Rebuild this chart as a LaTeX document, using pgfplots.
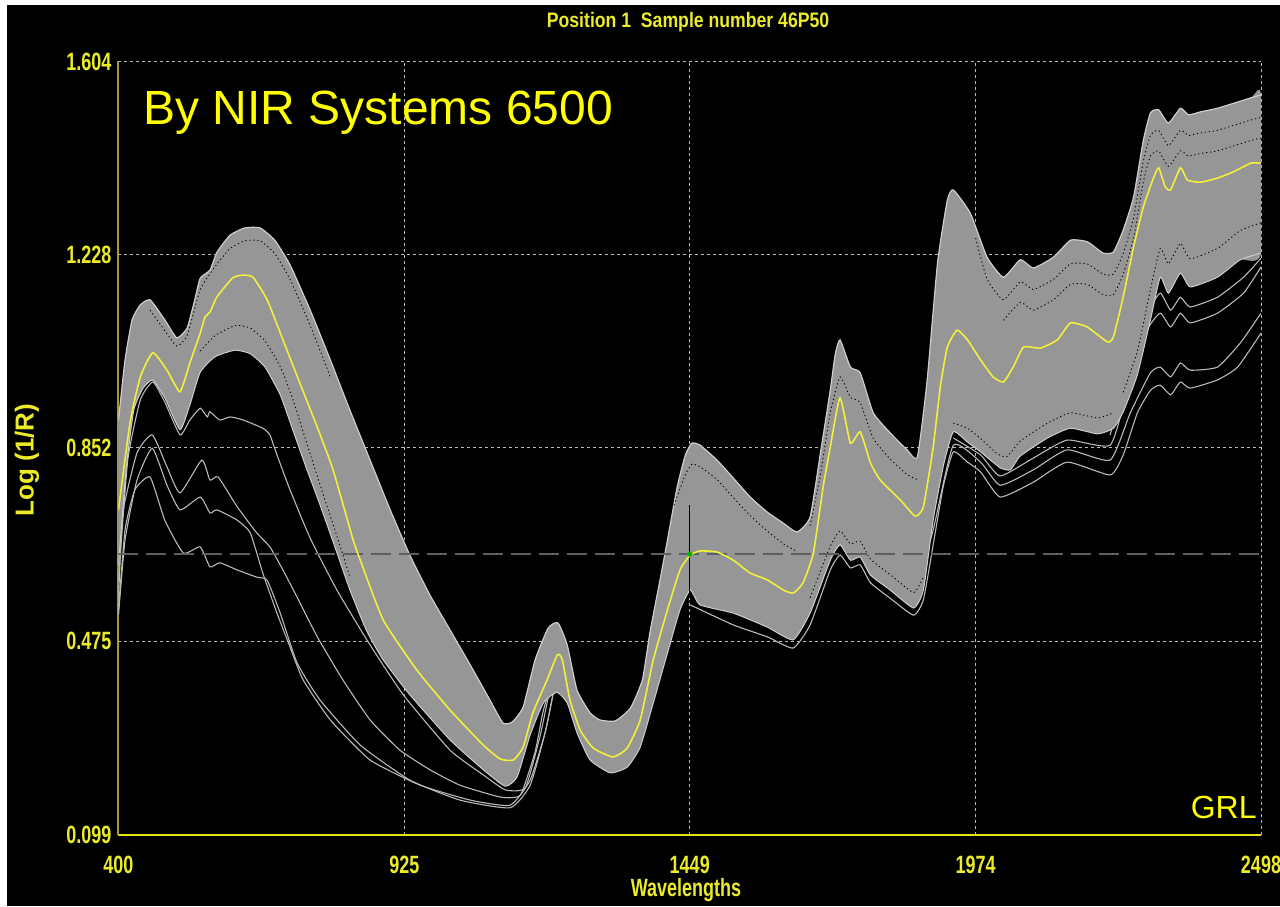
\documentclass[border=0pt]{standalone}
\usepackage{fontspec}
\setmainfont{Liberation Sans}
\newfontfamily\condfont[FakeStretch=0.72]{Liberation Sans Bold}
\newfontfamily\titlefont[FakeStretch=0.84]{Liberation Sans Bold}
\newfontfamily\labfont{Liberation Sans Bold}
\usepackage{pgfplots}
\pgfplotsset{compat=1.18}
\usetikzlibrary{backgrounds}
\definecolor{tickyellow}{RGB}{235,235,40}
\definecolor{axisyellow}{RGB}{230,230,20}
\definecolor{leftaxis}{RGB}{165,155,55}
\definecolor{bandgray}{RGB}{150,150,150}
\definecolor{linegray}{RGB}{205,205,205}
\definecolor{outgray}{RGB}{185,185,185}
\definecolor{meanyellow}{RGB}{240,240,60}
\definecolor{gridgray}{RGB}{185,185,185}
\definecolor{cursorgray}{RGB}{95,95,95}
\definecolor{textyellow}{RGB}{255,255,0}
\begin{document}
\begin{tikzpicture}
\begin{axis}[
  at={(0,0)}, anchor=south west,
  scale only axis, width=571.25pt, height=386.5pt,
  xmin=400, xmax=2498, ymin=0.099, ymax=1.604,
  axis x line*=bottom, axis y line*=left,
  x axis line style={-, draw=axisyellow, line width=1pt},
  y axis line style={-, draw=leftaxis, line width=1pt},
  xtick={400,925,1449,1974,2498}, xticklabels={400,925,1449,1974,2498},
  ytick={0.099,0.475,0.852,1.228,1.604}, yticklabels={0.099,0.475,0.852,1.228,1.604},
  major tick length=0pt,
  tick label style={font=\condfont\fontsize{12.5}{14}\selectfont, text=tickyellow},
  xticklabel shift=7pt,
  grid=major,
  major grid style={gridgray, line width=0.5pt, dash pattern=on 1.5pt off 1.5pt},
  xlabel={Wavelengths}, ylabel={Log (1/R)},
  xlabel style={at={(axis description cs:0.4967,-0.0718)}, anchor=center, font=\condfont\fontsize{12.5}{14}\selectfont, text=tickyellow},
  ylabel style={at={(axis description cs:-0.0801,0.4845)}, anchor=center, font=\labfont\fontsize{13}{15}\selectfont, text=tickyellow},
  title={Position 1\ \ Sample number 46P50},
  title style={at={(axis description cs:0.4985,1.0356)}, anchor=center, font=\titlefont\fontsize{10.5}{12}\selectfont, text=tickyellow},
]
% outlier spectra (left)
\addplot[outgray, line width=0.55pt, smooth, tension=0.3] coordinates {(400,0.594)(417,0.828)(440,0.945)(463,0.980)(485,0.941)(513,0.877)(531,0.906)(550,0.929)(563,0.912)(568,0.922)(586,0.906)(605,0.912)(629,0.906)(665,0.890)(678,0.877)(691,0.838)(715,0.770)(752,0.676)(801,0.575)(862,0.468)(923,0.371)(1009,0.263)(1070,0.215)(1110,0.186)(1147,0.190)(1174,0.290)(1190,0.37)(1205,0.42)};
\addplot[outgray, line width=0.55pt, smooth, tension=0.3] coordinates {(400,0.556)(408,0.725)(434,0.842)(462,0.877)(489,0.815)(513,0.764)(553,0.828)(568,0.789)(583,0.795)(618,0.737)(654,0.686)(678,0.659)(702,0.614)(728,0.561)(765,0.484)(812,0.400)(862,0.322)(917,0.263)(972,0.225)(1027,0.195)(1101,0.172)(1138,0.176)(1165,0.26)(1180,0.34)(1200,0.41)};
\addplot[outgray, line width=0.55pt, smooth, tension=0.3] coordinates {(400,0.526)(412,0.672)(434,0.789)(462,0.851)(489,0.779)(513,0.731)(550,0.756)(568,0.725)(581,0.731)(618,0.711)(642,0.686)(665,0.608)(691,0.530)(715,0.464)(739,0.400)(789,0.322)(862,0.244)(954,0.195)(1046,0.166)(1119,0.156)(1156,0.205)(1184,0.30)(1205,0.41)};
\addplot[outgray, line width=0.55pt, smooth, tension=0.3] coordinates {(400,0.536)(412,0.692)(430,0.770)(458,0.795)(485,0.711)(519,0.647)(550,0.659)(568,0.620)(586,0.628)(618,0.614)(654,0.600)(673,0.594)(697,0.530)(728,0.433)(770,0.361)(844,0.273)(935,0.205)(1027,0.166)(1119,0.151)(1156,0.195)(1184,0.30)(1205,0.41)};
% lower spectra (right)
\addplot[outgray, line width=0.55pt, smooth, tension=0.3] coordinates {(1450,0.546)(1529,0.507)(1591,0.484)(1639,0.462)(1670,0.507)(1707,0.614)(1725,0.643)(1744,0.618)(1762,0.624)(1781,0.589)(1817,0.559)(1860,0.526)(1878,0.556)(1896,0.663)(1915,0.779)(1933,0.844)(1959,0.824)(1983,0.805)(2019,0.756)(2080,0.785)(2142,0.824)(2221,0.799)(2245,0.838)(2271,0.920)(2295,0.964)(2313,0.974)(2332,0.955)(2350,0.980)(2368,0.968)(2418,0.984)(2455,1.009)(2498,1.075)};
\addplot[outgray, line width=0.55pt, smooth, tension=0.3] coordinates {(1860,0.556)(1896,0.692)(1933,0.857)(1983,0.824)(2019,0.779)(2080,0.809)(2142,0.848)(2221,0.828)(2258,0.920)(2295,0.998)(2313,1.009)(2332,0.990)(2350,1.017)(2368,1.003)(2418,1.009)(2460,1.056)(2498,1.114)};
\addplot[outgray, line width=0.55pt, smooth, tension=0.3] coordinates {(1933,0.871)(1983,0.838)(2019,0.797)(2080,0.832)(2142,0.867)(2221,0.857)(2253,0.964)(2289,1.081)(2313,1.114)(2332,1.087)(2350,1.114)(2368,1.095)(2418,1.114)(2466,1.153)(2498,1.204)};
\addplot[outgray, line width=0.55pt, smooth, tension=0.3] coordinates {(2221,0.877)(2253,1.003)(2289,1.114)(2313,1.153)(2332,1.120)(2350,1.145)(2368,1.126)(2418,1.145)(2466,1.184)(2498,1.221)};
% gray band
\addplot[fill=bandgray, draw=none, smooth, tension=0.3] coordinates {(400,0.906)(412,1.023)(425,1.101)(440,1.130)(458,1.140)(485,1.101)(507,1.066)(526,1.085)(540,1.140)(550,1.182)(568,1.198)(581,1.233)(605,1.266)(632,1.280)(660,1.280)(687,1.256)(715,1.208)(752,1.120)(789,1.023)(825,0.925)(862,0.828)(899,0.731)(935,0.643)(972,0.565)(1009,0.497)(1046,0.429)(1082,0.361)(1106,0.316)(1123,0.318)(1143,0.347)(1165,0.439)(1189,0.501)(1207,0.511)(1224,0.468)(1242,0.380)(1266,0.336)(1284,0.322)(1312,0.320)(1340,0.345)(1362,0.400)(1376,0.493)(1395,0.598)(1408,0.672)(1426,0.776)(1441,0.838)(1453,0.861)(1468,0.857)(1499,0.828)(1529,0.793)(1560,0.756)(1591,0.727)(1621,0.705)(1646,0.688)(1670,0.717)(1689,0.842)(1707,0.964)(1716,1.033)(1725,1.062)(1744,1.009)(1762,0.998)(1786,0.920)(1817,0.881)(1848,0.848)(1867,0.834)(1885,0.984)(1904,1.212)(1922,1.334)(1933,1.354)(1964,1.309)(1995,1.223)(2025,1.184)(2056,1.218)(2080,1.202)(2117,1.223)(2148,1.256)(2179,1.253)(2208,1.231)(2227,1.233)(2245,1.276)(2264,1.340)(2282,1.451)(2295,1.504)(2310,1.510)(2328,1.484)(2350,1.513)(2365,1.500)(2387,1.506)(2418,1.513)(2479,1.533)(2498,1.539)
(2498,1.231)(2460,1.218)(2418,1.184)(2368,1.165)(2350,1.192)(2328,1.153)(2313,1.184)(2295,1.101)(2271,0.994)(2245,0.922)(2227,0.890)(2198,0.879)(2148,0.890)(2106,0.871)(2056,0.836)(2038,0.809)(2019,0.813)(1983,0.844)(1959,0.863)(1933,0.883)(1915,0.818)(1896,0.711)(1878,0.575)(1860,0.540)(1817,0.575)(1781,0.604)(1762,0.639)(1744,0.633)(1725,0.663)(1707,0.633)(1670,0.530)(1639,0.478)(1591,0.503)(1529,0.530)(1468,0.546)(1450,0.575)(1431,0.536)(1408,0.452)(1382,0.355)(1358,0.269)(1334,0.230)(1303,0.219)(1266,0.244)(1242,0.297)(1224,0.355)(1205,0.376)(1180,0.355)(1156,0.293)(1132,0.211)(1110,0.193)(1070,0.225)(1009,0.283)(935,0.371)(886,0.439)(855,0.497)(825,0.575)(798,0.657)(770,0.741)(743,0.818)(719,0.890)(697,0.955)(669,1.009)(642,1.035)(614,1.042)(577,1.029)(550,0.999)(531,0.935)(513,0.887)(485,0.949)(463,0.984)(445,0.968)(428,0.925)(414,0.809)(400,0.624)};
% band outlines
\addplot[linegray, line width=0.6pt, smooth, tension=0.3] coordinates {(400,0.906)(412,1.023)(425,1.101)(440,1.130)(458,1.140)(485,1.101)(507,1.066)(526,1.085)(540,1.140)(550,1.182)(568,1.198)(581,1.233)(605,1.266)(632,1.280)(660,1.280)(687,1.256)(715,1.208)(752,1.120)(789,1.023)(825,0.925)(862,0.828)(899,0.731)(935,0.643)(972,0.565)(1009,0.497)(1046,0.429)(1082,0.361)(1106,0.316)(1123,0.318)(1143,0.347)(1165,0.439)(1189,0.501)(1207,0.511)(1224,0.468)(1242,0.380)(1266,0.336)(1284,0.322)(1312,0.320)(1340,0.345)(1362,0.400)(1376,0.493)(1395,0.598)(1408,0.672)(1426,0.776)(1441,0.838)(1453,0.861)(1468,0.857)(1499,0.828)(1529,0.793)(1560,0.756)(1591,0.727)(1621,0.705)(1646,0.688)(1670,0.717)(1689,0.842)(1707,0.964)(1716,1.033)(1725,1.062)(1744,1.009)(1762,0.998)(1786,0.920)(1817,0.881)(1848,0.848)(1867,0.834)(1885,0.984)(1904,1.212)(1922,1.334)(1933,1.354)(1964,1.309)(1995,1.223)(2025,1.184)(2056,1.218)(2080,1.202)(2117,1.223)(2148,1.256)(2179,1.253)(2208,1.231)(2227,1.233)(2245,1.276)(2264,1.340)(2282,1.451)(2295,1.504)(2310,1.510)(2328,1.484)(2350,1.513)(2365,1.500)(2387,1.506)(2418,1.513)(2479,1.533)(2498,1.539)};
\addplot[linegray, line width=0.5pt, smooth, tension=0.3] coordinates {(400,0.624)(414,0.809)(428,0.925)(445,0.968)(463,0.984)(485,0.949)(513,0.887)(531,0.935)(550,0.999)(577,1.029)(614,1.042)(642,1.035)(669,1.009)(697,0.955)(719,0.890)(743,0.818)(770,0.741)(798,0.657)(825,0.575)(855,0.497)(886,0.439)(935,0.371)(1009,0.283)(1070,0.225)(1110,0.193)(1132,0.211)(1156,0.293)(1180,0.355)(1205,0.376)(1224,0.355)(1242,0.297)(1266,0.244)(1303,0.219)(1334,0.230)(1358,0.269)(1382,0.355)(1408,0.452)(1431,0.536)(1450,0.575)(1468,0.546)(1529,0.530)(1591,0.503)(1639,0.478)(1670,0.530)(1707,0.633)(1725,0.663)(1744,0.633)(1762,0.639)(1781,0.604)(1817,0.575)(1860,0.540)(1878,0.575)(1896,0.711)(1915,0.818)(1933,0.883)(1959,0.863)(1983,0.844)(2019,0.813)(2038,0.809)(2056,0.836)(2106,0.871)(2148,0.890)(2198,0.879)(2227,0.890)(2245,0.922)(2271,0.994)(2295,1.101)(2313,1.184)(2328,1.153)(2350,1.192)(2368,1.165)(2418,1.184)(2460,1.218)(2498,1.231)};
% dark streaks inside the band
\addplot[black, line width=0.45pt, dash pattern=on 0.6pt off 1.4pt, smooth, tension=0.3] coordinates {(458,1.12)(485,1.08)(507,1.05)(526,1.07)(550,1.16)(581,1.21)(605,1.24)(632,1.255)(660,1.255)(687,1.23)(715,1.18)(752,1.09)(789,0.99)};
\addplot[black, line width=0.45pt, dash pattern=on 0.6pt off 1.4pt, smooth, tension=0.3] coordinates {(550,1.04)(577,1.07)(614,1.09)(642,1.085)(669,1.06)(697,1.01)(719,0.95)(743,0.87)(770,0.78)(798,0.69)(825,0.60)};
\addplot[black, line width=0.45pt, dash pattern=on 0.6pt off 1.4pt, smooth, tension=0.3] coordinates {(1420,0.74)(1441,0.80)(1453,0.82)(1468,0.815)(1499,0.79)(1529,0.755)(1560,0.72)(1591,0.69)(1621,0.665)(1646,0.65)};
\addplot[black, line width=0.45pt, dash pattern=on 0.6pt off 1.4pt, smooth, tension=0.3] coordinates {(1670,0.70)(1689,0.80)(1707,0.92)(1725,0.99)(1744,0.95)(1762,0.94)(1786,0.87)(1817,0.83)(1848,0.80)(1867,0.79)};
\addplot[black, line width=0.45pt, dash pattern=on 0.6pt off 1.4pt, smooth, tension=0.3] coordinates {(1670,0.56)(1707,0.66)(1725,0.69)(1744,0.665)(1762,0.67)(1781,0.635)(1817,0.605)(1860,0.57)(1878,0.60)};
\addplot[black, line width=0.45pt, dash pattern=on 0.6pt off 1.4pt, smooth, tension=0.3] coordinates {(1933,0.90)(1959,0.89)(1983,0.87)(2014,0.84)(2032,0.835)(2056,0.865)(2106,0.90)(2148,0.92)(2198,0.91)(2227,0.92)};
\addplot[black, line width=0.45pt, dash pattern=on 0.6pt off 1.4pt, smooth, tension=0.3] coordinates {(1974,1.26)(1995,1.18)(2025,1.14)(2056,1.175)(2080,1.16)(2117,1.18)(2148,1.21)(2179,1.21)(2208,1.19)(2227,1.19)(2245,1.23)(2264,1.30)(2282,1.41)(2295,1.46)(2310,1.47)(2328,1.44)(2350,1.47)(2365,1.46)(2387,1.465)(2418,1.47)(2479,1.49)(2498,1.495)};
\addplot[black, line width=0.45pt, dash pattern=on 0.6pt off 1.4pt, smooth, tension=0.3] coordinates {(2025,1.10)(2056,1.135)(2080,1.12)(2117,1.14)(2148,1.17)(2179,1.17)(2208,1.15)(2227,1.15)(2245,1.19)(2264,1.26)(2282,1.37)(2295,1.42)(2310,1.43)(2328,1.40)(2350,1.43)(2365,1.42)(2387,1.425)(2418,1.43)(2479,1.45)(2498,1.455)};
\addplot[black, line width=0.45pt, dash pattern=on 0.6pt off 1.4pt, smooth, tension=0.3] coordinates {(2245,0.96)(2271,1.04)(2295,1.16)(2313,1.24)(2328,1.21)(2350,1.25)(2368,1.22)(2418,1.24)(2460,1.275)(2498,1.29)};
% cursor
\addplot[black, line width=0.4pt] coordinates {(1449,0.56)(1449,0.74)};
\addplot[cursorgray, line width=0.6pt, dash pattern=on 10pt off 4pt] coordinates {(400,0.645)(2498,0.645)};
% mean spectrum
\addplot[meanyellow, line width=0.8pt, smooth, tension=0.3] coordinates {(400,0.731)(421,0.900)(440,0.990)(463,1.037)(489,1.003)(513,0.961)(531,1.017)(550,1.075)(559,1.107)(568,1.116)(581,1.146)(610,1.183)(629,1.188)(647,1.184)(673,1.140)(702,1.062)(733,0.978)(765,0.892)(794,0.809)(831,0.672)(844,0.633)(886,0.517)(948,0.419)(1009,0.341)(1070,0.273)(1101,0.246)(1125,0.244)(1143,0.269)(1161,0.336)(1187,0.400)(1206,0.449)(1215,0.439)(1229,0.361)(1248,0.302)(1272,0.267)(1308,0.250)(1334,0.267)(1358,0.322)(1382,0.439)(1408,0.536)(1431,0.614)(1450,0.643)(1468,0.651)(1499,0.649)(1529,0.633)(1560,0.608)(1591,0.595)(1621,0.575)(1639,0.569)(1657,0.589)(1676,0.647)(1694,0.776)(1707,0.853)(1725,0.949)(1744,0.861)(1762,0.883)(1781,0.822)(1799,0.789)(1836,0.750)(1863,0.719)(1878,0.737)(1896,0.853)(1909,0.970)(1922,1.048)(1940,1.081)(1959,1.062)(1983,1.023)(2006,0.990)(2025,0.980)(2043,1.009)(2062,1.048)(2093,1.046)(2124,1.062)(2148,1.095)(2179,1.087)(2216,1.058)(2227,1.068)(2245,1.146)(2264,1.243)(2282,1.321)(2299,1.373)(2310,1.397)(2322,1.360)(2332,1.354)(2350,1.397)(2363,1.373)(2387,1.369)(2418,1.377)(2447,1.389)(2479,1.406)(2498,1.406)};
\addplot[only marks, mark=*, mark size=1.1pt, color=green!70!black] coordinates {(1449,0.645)};
\node[anchor=base west, inner sep=0pt, text=textyellow, font=\fontsize{24}{28}\selectfont] at (rel axis cs:0.0214,0.9179) {By NIR Systems 6500};
\node[anchor=base east, inner sep=0pt, text=textyellow, font=\fontsize{16}{19}\selectfont] at (rel axis cs:0.9965,0.0213) {GRL};
\end{axis}
\begin{pgfonlayer}{background}
\fill[white] (-59.25pt,-35.75pt) rectangle (580.75pt,417.25pt);
\fill[black] (-55.75pt,-35.75pt) rectangle (580.75pt,414.75pt);
\end{pgfonlayer}
\pgfresetboundingbox
\useasboundingbox (-59.25pt,-35.75pt) rectangle (580.75pt,417.25pt);
\end{tikzpicture}
\end{document}
